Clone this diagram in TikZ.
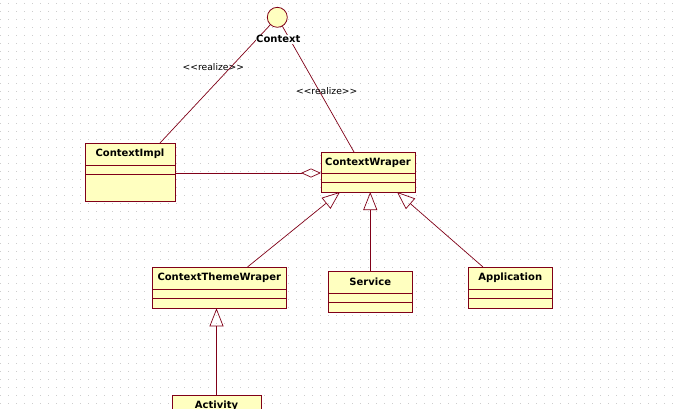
\documentclass[tikz,border=0pt]{standalone}
\usepackage{fontspec}
\setmainfont{DejaVu Sans}
\usetikzlibrary{positioning,arrows.meta}

\definecolor{umlred}{RGB}{128,0,24}
\definecolor{umlyellow}{RGB}{255,255,192}
\definecolor{griddot}{RGB}{205,205,205}

\tikzset{
	cls/.style={draw=umlred, fill=umlyellow, line width=0.8pt, inner sep=0pt, outer sep=0pt, anchor=north west, font=\fontsize{10}{12}\selectfont\bfseries},
	comp/.style={draw=umlred, fill=umlyellow, line width=0.8pt, inner sep=0pt, outer sep=0pt, below=0pt of #1},
	link/.style={draw=umlred, line width=0.7pt},
	realize/.style={font=\fontsize{9.2}{11}\selectfont},
	inherit/.style={link, -{Triangle[open, length=18pt, width=14pt]}},
	aggr/.style={link, -{Diamond[open, length=20pt, width=9pt]}}
}

\begin{document}
\begin{tikzpicture}[x=1pt,y=-1pt]
	
	\clip (0,0) rectangle (675,408);
	\fill[white] (0,0) rectangle (675,408);
	% background dots
	\foreach \r in {0,...,50}
		\draw[griddot, line width=1pt, dash pattern=on 1pt off 7pt] (0,3.3+8*\r) -- (675,3.3+8*\r);

	% interface
	\node[circle, draw=umlred, fill=umlyellow, line width=0.8pt, minimum size=20pt, inner sep=0pt] (ctx) at (277.3,17.3) {};
	
	% classes
	\node[cls, minimum width=90pt, minimum height=22pt] (impl-h) at (85,143) {ContextImpl};
	\node[comp=impl-h, minimum width=90pt, minimum height=9pt] (impl-a) {};
	\node[comp=impl-a, minimum width=90pt, minimum height=27pt] (impl-o) {};

	\node[cls, minimum width=94pt, minimum height=21pt] (cw-h) at (321,152) {ContextWraper};
	\node[comp=cw-h, minimum width=94pt, minimum height=9.5pt] (cw-a) {};
	\node[comp=cw-a, minimum width=94pt, minimum height=9.5pt] (cw-o) {};

	\node[cls, minimum width=134.5pt, minimum height=22pt] (ctw-h) at (152,267) {ContextThemeWraper};
	\node[comp=ctw-h, minimum width=134.5pt, minimum height=9.3pt] (ctw-a) {};
	\node[comp=ctw-a, minimum width=134.5pt, minimum height=10pt] (ctw-o) {};

	\node[cls, minimum width=84.5pt, minimum height=22.3pt] (svc-h) at (328,271) {Service};
	\node[comp=svc-h, minimum width=84.5pt, minimum height=9.4pt] (svc-a) {};
	\node[comp=svc-a, minimum width=84.5pt, minimum height=9.6pt] (svc-o) {};

	\node[cls, minimum width=84.5pt, minimum height=22pt] (app-h) at (468,267) {Application};
	\node[comp=app-h, minimum width=84.5pt, minimum height=9.3pt] (app-a) {};
	\node[comp=app-a, minimum width=84.5pt, minimum height=10pt] (app-o) {};

	\node[cls, minimum width=89pt, minimum height=22pt] (act-h) at (172,395) {Activity};

	% realizations
	\draw[link] (ctx) -- ([xshift=-15pt]impl-h.north east);
	\draw[link] (ctx) -- ([xshift=33pt]cw-h.north west);
	\node[font=\fontsize{10}{12}\selectfont\bfseries, fill=white, inner sep=0.5pt] (ctx-l) at (278.3,39.3) {Context};
	\node[realize] (r1) at (213.3,67.3) {<{}<realize>{}>};
	\node[realize] (r2) at (326.7,90.7) {<{}<realize>{}>};

	% aggregation
	\draw[aggr] (impl-h.east |- cw-h.south west) -- (cw-h.south west);

	% generalizations
	\draw[inherit] ([xshift=-39pt]ctw-h.north east) -- ([xshift=19pt]cw-o.south west);
	\draw[inherit] (svc-h.north) -- (svc-h.north |- cw-o.south);
	\draw[inherit] ([xshift=15pt]app-h.north west) -- ([xshift=-18pt]cw-o.south east);
	\draw[inherit] (act-h.north) -- (act-h.north |- ctw-o.south);
	
\end{tikzpicture}
\end{document}
